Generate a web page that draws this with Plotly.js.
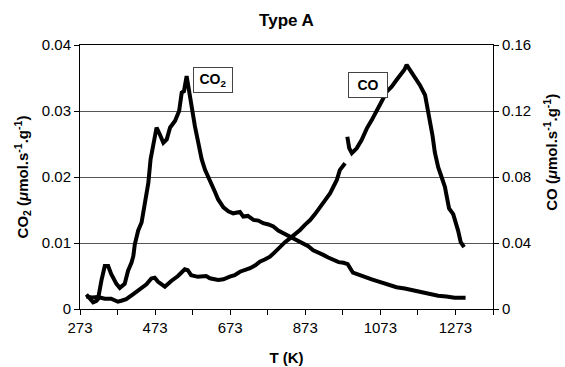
<!DOCTYPE html>
<html>
<head>
<meta charset="utf-8">
<script src="https://cdn.plot.ly/plotly-3.0.1.min.js"></script>
<style>html,body{margin:0;padding:0;background:#fff;}#chart{width:565px;height:367px;}</style>
</head>
<body>
<div id="chart"></div>
<script>
// ---- Data ----
const co2T = [290, 299, 308, 316, 321, 330, 339, 348, 356, 370, 379, 392, 401, 410, 415, 419, 424, 428, 437, 446, 455, 461, 468, 477, 486, 495, 504, 513, 526, 537, 544, 550, 557, 564, 570, 579, 588, 597, 606, 619, 632, 641, 655, 668, 681, 699, 708, 720, 735, 748, 761, 775, 788, 801, 814, 828, 841, 854, 868, 881, 894, 908, 921, 934, 948, 962, 975, 986, 1000, 1013, 1027, 1050, 1071, 1094, 1116, 1138, 1160, 1182, 1204, 1227, 1249, 1271, 1293, 1300];
const co2V = [0.0022, 0.0017, 0.0010, 0.0012, 0.0015, 0.0043, 0.0065, 0.0065, 0.0053, 0.0038, 0.0032, 0.0038, 0.0058, 0.0070, 0.0080, 0.0098, 0.0110, 0.0119, 0.0131, 0.0161, 0.0191, 0.0227, 0.0252, 0.0275, 0.0264, 0.0252, 0.0257, 0.0275, 0.0285, 0.0300, 0.0328, 0.0330, 0.0353, 0.0330, 0.0302, 0.0277, 0.0252, 0.0227, 0.0211, 0.0196, 0.0178, 0.0166, 0.0154, 0.0148, 0.0145, 0.0147, 0.0140, 0.0141, 0.0135, 0.0134, 0.0130, 0.0128, 0.0125, 0.0119, 0.0115, 0.0111, 0.0107, 0.0104, 0.0100, 0.0095, 0.0089, 0.0086, 0.0082, 0.0078, 0.0074, 0.0071, 0.0070, 0.0068, 0.0055, 0.0052, 0.0049, 0.0045, 0.0041, 0.0037, 0.0033, 0.0031, 0.0028, 0.0025, 0.0023, 0.0020, 0.0019, 0.0017, 0.0017, 0.0017];

const coT = [290, 305, 321, 339, 356, 365, 374, 383, 396, 414, 432, 450, 463, 472, 481, 499, 516, 534, 552, 560, 569, 587, 609, 619, 641, 655, 672, 685, 699, 712, 726, 740, 752, 765, 779, 792, 806, 819, 832, 845, 859, 872, 886, 899, 912, 926, 939, 948, 957, 965, 979, 982, 985, 990, 997, 1010, 1023, 1037, 1050, 1063, 1076, 1090, 1103, 1116, 1130, 1137, 1143, 1152, 1165, 1178, 1192, 1198, 1205, 1212, 1218, 1227, 1236, 1245, 1250, 1256, 1267, 1274, 1280, 1287, 1296];
const coV = [0.0075, 0.0070, 0.0072, 0.0062, 0.0062, 0.0055, 0.0044, 0.0050, 0.0060, 0.0089, 0.0120, 0.0150, 0.0185, 0.0190, 0.0165, 0.0135, 0.0170, 0.0200, 0.0241, 0.0235, 0.0205, 0.0195, 0.0200, 0.0186, 0.0176, 0.0180, 0.0196, 0.0205, 0.0226, 0.0235, 0.0247, 0.0265, 0.0287, 0.0300, 0.0317, 0.0345, 0.0378, 0.0405, 0.0428, 0.0450, 0.0479, 0.0510, 0.0539, 0.0575, 0.0620, 0.0660, 0.0701, 0.0740, 0.0782, 0.0842, 0.0883, null, 0.1044, 0.0975, 0.0944, 0.0974, 0.1024, 0.1095, 0.1145, 0.1206, 0.1256, 0.1317, 0.1347, 0.1388, 0.1428, 0.1450, 0.1479, 0.1448, 0.1408, 0.1358, 0.1297, 0.1230, 0.1150, 0.1050, 0.0950, 0.0860, 0.0800, 0.0740, 0.0680, 0.0610, 0.0575, 0.0530, 0.0475, 0.0405, 0.0375];

const xTickVals = [273, 373, 473, 573, 673, 773, 873, 973, 1073, 1173, 1273, 1373];
const xTickText = ['273', '', '473', '', '673', '', '873', '', '1073', '', '1273', ''];
const yLeftTicks = [0, 0.01, 0.02, 0.03, 0.04];
const yLeftText = ['0', '0.01', '0.02', '0.03', '0.04'];
const yRightTicks = [0, 0.04, 0.08, 0.12, 0.16];
const yRightText = ['0', '0.04', '0.08', '0.12', '0.16'];

const FONT = 'Liberation Sans, Arial, Helvetica, sans-serif';

const traces = [
  {x: co2T, y: co2V, type: 'scatter', mode: 'lines', name: 'CO2',
   line: {color: '#000', width: 4}, yaxis: 'y'},
  {x: coT, y: coV, type: 'scatter', mode: 'lines', name: 'CO',
   line: {color: '#000', width: 4}, yaxis: 'y2', connectgaps: false}
];

const layout = {
  width: 565, height: 367,
  margin: {l: 80, r: 72, t: 45, b: 58},
  paper_bgcolor: '#fff', plot_bgcolor: '#fff',
  showlegend: false,
  font: {family: FONT, color: '#000', size: 15},
  title: {text: '<b>Type A</b>', font: {family: FONT, size: 17, color: '#000'},
          x: 0.5, xref: 'paper', y: 1 - 20/367, yref: 'container', yanchor: 'middle'},
  xaxis: {range: [273, 1373], tickmode: 'array', tickvals: xTickVals, ticktext: xTickText,
          ticks: 'outside', ticklen: 5, tickcolor: '#000', showgrid: false, zeroline: false,
          showline: true, linecolor: '#000', linewidth: 1, mirror: true,
          tickfont: {family: FONT, size: 15, color: '#000'},
          title: {text: '<b>T (K)</b>', font: {family: FONT, size: 15, color: '#000'}, standoff: 17},
          automargin: false},
  yaxis: {range: [0, 0.04], tickmode: 'array', tickvals: yLeftTicks, ticktext: yLeftText,
          ticks: 'outside', ticklen: 5, tickcolor: '#000', showgrid: true, gridcolor: '#555', gridwidth: 1,
          zeroline: false, showline: true, linecolor: '#000', linewidth: 1,
          tickfont: {family: FONT, size: 15, color: '#000'},
          title: {text: '<b>CO<sub>2</sub> (<i>μ</i>mol.s<sup>-1</sup>.g<sup>-1</sup>)</b>', font: {family: FONT, size: 15, color: '#000'}, standoff: 9},
          automargin: false},
  yaxis2: {range: [0, 0.16], overlaying: 'y', side: 'right', tickmode: 'array', tickvals: yRightTicks, ticktext: yRightText,
          ticks: 'outside', ticklen: 5, tickcolor: '#000', showgrid: false, zeroline: false,
          showline: true, linecolor: '#000', linewidth: 1,
          tickfont: {family: FONT, size: 15, color: '#000'},
          automargin: false},
  annotations: [
    {text: '<b>CO (<i>μ</i>mol.s<sup>-1</sup>.g<sup>-1</sup>)</b>', xref: 'paper', yref: 'paper',
     x: 1.140, y: 0.595, xanchor: 'center', yanchor: 'middle', textangle: -90,
     showarrow: false, font: {family: FONT, size: 15, color: '#000'}},
    {text: '<b>CO<sub>2</sub></b>', xref: 'paper', yref: 'paper', x: 0.323, y: 0.869,
     xanchor: 'center', yanchor: 'middle',
     showarrow: false, font: {family: FONT, size: 14, color: '#000'},
     bordercolor: '#444', borderwidth: 1, borderpad: 1, width: 36, height: 22, bgcolor: '#fff'},
    {text: '<b>CO</b>', xref: 'paper', yref: 'paper', x: 0.6985, y: 0.850,
     xanchor: 'center', yanchor: 'middle',
     showarrow: false, font: {family: FONT, size: 14, color: '#000'},
     bordercolor: '#444', borderwidth: 1, borderpad: 1, width: 36, height: 22, bgcolor: '#fff'}
  ]
};

Plotly.newPlot('chart', traces, layout, {staticPlot: true, displayModeBar: false});
</script>
</body>
</html>
